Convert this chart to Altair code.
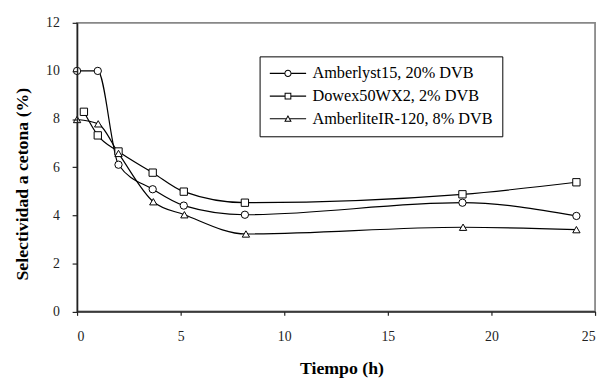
import altair as alt
import pandas as pd

series_names = ["Amberlyst15, 20% DVB", "Dowex50WX2, 2% DVB", "AmberliteIR-120, 8% DVB"]

t_amberlyst = [0.0, 1.0, 2.0, 3.65, 5.15, 8.1, 18.6, 24.1]
s_amberlyst = [10.0, 10.0, 6.1, 5.08, 4.4, 4.02, 4.52, 3.97]

t_dowex = [0.33, 1.0, 2.0, 3.65, 5.15, 8.1, 18.6, 24.1]
s_dowex = [8.3, 7.32, 6.65, 5.77, 4.98, 4.52, 4.87, 5.37]

t_amberlite = [0.0, 1.02, 2.0, 3.68, 5.18, 8.15, 18.63, 24.1]
s_amberlite = [7.98, 7.8, 6.57, 4.56, 4.02, 3.22, 3.5, 3.4]

x_ticks = [0, 5, 10, 15, 20, 25]
y_ticks = [0, 2, 4, 6, 8, 10, 12]

rows = []
for name, ts, ss in zip(series_names,
                        [t_amberlyst, t_dowex, t_amberlite],
                        [s_amberlyst, s_dowex, s_amberlite]):
    for t, s in zip(ts, ss):
        rows.append({"t": t, "s": s, "serie": name})
df = pd.DataFrame(rows)

FONT = "Liberation Serif"

common_axis = dict(grid=False, labelFont=FONT, labelFontSize=14, labelColor="#222222",
                   titleFont=FONT, titleFontSize=18, titleFontWeight="bold",
                   titleColor="black", domainColor="#222222", domainWidth=1.5,
                   tickColor="#222222", tickWidth=1.2, zindex=2)

x_enc = alt.X("t:Q",
              scale=alt.Scale(domain=[0, 25], nice=False, zero=False),
              axis=alt.Axis(values=x_ticks, title="Tiempo (h)",
                            tickSize=4, labelPadding=25, labelBaseline="alphabetic",
                            titleX=268, titleY=63, titleBaseline="alphabetic",
                            titleAnchor="start", titleAlign="center", **common_axis))
y_enc = alt.Y("s:Q",
              scale=alt.Scale(domain=[0, 12], nice=False),
              axis=alt.Axis(values=y_ticks, title="Selectividad a cetona (%)",
                            tickSize=5, labelPadding=13,
                            titleX=-50, titleY=163, titleBaseline="alphabetic",
                            titleAlign="center", titleAngle=270, **common_axis))

lines = alt.Chart(df).mark_line(
    interpolate="monotone", color="black", strokeWidth=1.2
).encode(x=x_enc, y=y_enc, detail="serie:N")

points = alt.Chart(df).mark_point(
    filled=True, fill="white", stroke="black", strokeWidth=1, size=55, opacity=1
).encode(
    x=x_enc, y=y_enc,
    shape=alt.Shape("serie:N",
                    scale=alt.Scale(domain=series_names,
                                    range=["circle", "square", "triangle-up"]),
                    legend=None)
)

# legend glyphs (line - marker - line), drawn as filled outlines
legend_paths = [
    "M-4.6,-0.15H-0.9V0.15H-4.6Z M0.9,-0.15H4.6V0.15H0.9Z "
    "M-0.9,0A0.9,0.9,0,1,1,0.9,0A0.9,0.9,0,1,1,-0.9,0Z "
    "M-0.65,0A0.65,0.65,0,1,0,0.65,0A0.65,0.65,0,1,0,-0.65,0Z",
    "M-4.6,-0.15H-0.85V0.15H-4.6Z M0.85,-0.15H4.6V0.15H0.85Z "
    "M-0.85,-0.85H0.85V0.85H-0.85Z M-0.6,-0.6V0.6H0.6V-0.6Z",
    "M-4.6,-0.15H-0.53V0.15H-4.6Z M0.53,-0.15H4.6V0.15H0.53Z "
    "M0,-0.95L0.95,0.75H-0.95Z M0,-0.44L-0.52,0.5H0.52Z",
]

legend_layer = alt.Chart(df).transform_filter("false").mark_point(
    filled=True, color="black", fill="black", strokeWidth=0
).encode(
    x=x_enc, y=y_enc,
    shape=alt.Shape("serie:N",
                    scale=alt.Scale(domain=series_names, range=legend_paths),
                    legend=alt.Legend(title=None, orient="none", legendX=185, legendY=34,
                                      fillColor="white", strokeColor="black",
                                      padding=9, rowPadding=6,
                                      symbolSize=64, symbolOffset=11.5,
                                      symbolFillColor="black", symbolStrokeWidth=0,
                                      symbolOpacity=1,
                                      labelOffset=16.5, labelFont=FONT, labelFontSize=16.5,
                                      labelColor="black", labelLimit=400))
)

chart = alt.layer(legend_layer, lines, points).resolve_scale(
    shape="independent"
).properties(
    width=525, height=292.5,
    autosize=alt.AutoSizeParams(type="none"),
    padding={"left": 70, "top": 12.5, "right": 4, "bottom": 68},
).configure_view(
    stroke="#888888", strokeWidth=1.8
)

chart.save("out.html", embed_options={"renderer": "svg", "actions": False})
